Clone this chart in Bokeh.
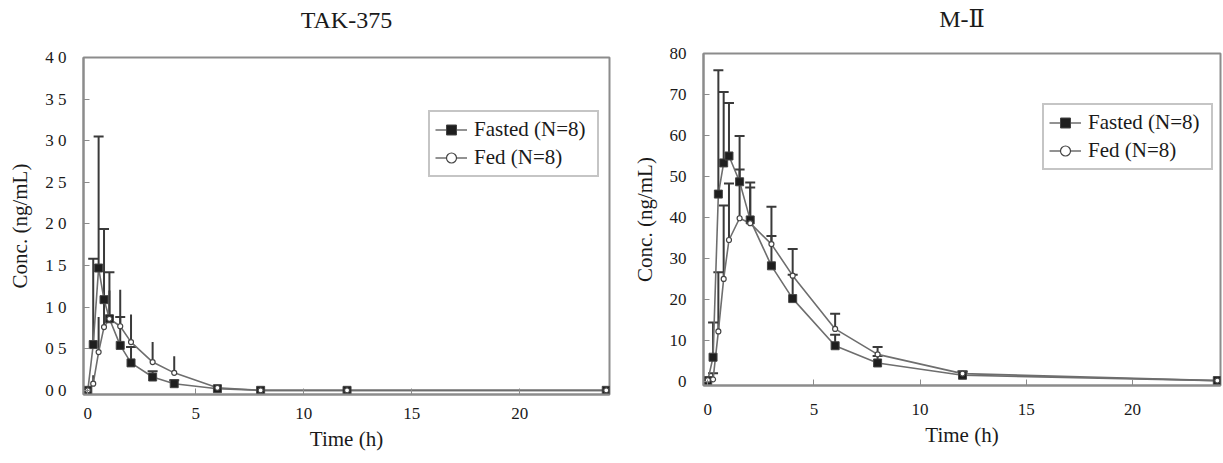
from bokeh.plotting import figure
from bokeh.models import (Range1d, FixedTicker, CustomJSTickFormatter, Whisker, TeeHead,
                          ColumnDataSource, Legend, LegendItem, Title)
from bokeh.layouts import row, column
from bokeh.embed import file_html
from bokeh.resources import INLINE

# ---------------- data ----------------
time_h = [0, 0.25, 0.5, 0.75, 1, 1.5, 2, 3, 4, 6, 8, 12, 24]

tak_fasted_mean = [0.0, 0.55, 1.47, 1.09, 0.86, 0.54, 0.33, 0.16, 0.08, 0.02, 0.0, 0.0, 0.0]
tak_fasted_sd   = [0.0, 1.03, 1.58, 0.85, 0.56, 0.34, 0.19, 0.07, 0.04, 0.0, 0.0, 0.0, 0.0]
tak_fed_mean    = [0.0, 0.08, 0.46, 0.76, 0.86, 0.77, 0.58, 0.34, 0.21, 0.03, 0.0, 0.0, 0.0]
tak_fed_sd      = [0.0, 0.10, 0.42, 0.30, 0.34, 0.44, 0.33, 0.24, 0.20, 0.0, 0.0, 0.0, 0.0]

m2_fasted_mean = [0.2, 5.9, 45.7, 53.3, 55.0, 48.7, 39.4, 28.2, 20.2, 8.7, 4.5, 1.5, 0.2]
m2_fasted_sd   = [0.0, 8.5, 30.2, 17.3, 12.9, 11.2, 9.1, 7.3, 5.8, 2.7, 1.7, 0.8, 0.0]
m2_fed_mean    = [0.3, 0.5, 12.2, 25.0, 34.5, 39.8, 38.6, 33.5, 25.8, 12.8, 6.6, 1.9, 0.2]
m2_fed_sd      = [0.0, 1.5, 14.4, 17.9, 13.8, 11.9, 8.7, 9.1, 6.5, 3.7, 1.8, 0.6, 0.0]

x_ticks = [0, 5, 10, 15, 20]
tak_y_ticks = [0, 0.5, 1.0, 1.5, 2.0, 2.5, 3.0, 3.5, 4.0]
m2_y_ticks = [0, 10, 20, 30, 40, 50, 60, 70, 80]

labels = ["Fasted (N=8)", "Fed (N=8)"]
titles = ["TAK-375", "M-\u2161"]
x_label = "Time (h)"
y_label = "Conc. (ng/mL)"

SERIF = "'Liberation Serif', 'DejaVu Serif', serif"
LINE_C = "#6e6e6e"
BAR_C = "#3a3a3a"
FRAME_C = "#8c8c8c"


def make_panel(title, fm, fs, em, es, y_range, y_ticks, width, borders, fed_caps, legend_loc,
               title_standoffs, x_std, y_fmt=None):
    bl, br, bt, bb = borders
    p = figure(width=width, height=463, output_backend="svg", toolbar_location=None,
               title=None,
               x_range=Range1d(-0.2, 24.15), y_range=Range1d(*y_range),
               min_border_left=bl, min_border_right=br, min_border_top=bt, min_border_bottom=bb)
    # spacer (closest to the frame) then the real title
    p.add_layout(Title(text=" ", text_font_size="8px", standoff=title_standoffs[0]), "above")
    p.add_layout(Title(text=title, align="center", text_font=SERIF, text_font_style="normal",
                       text_font_size="24px", text_color="#1a1a1a",
                       standoff=title_standoffs[1]),
                 "above")
    p.grid.visible = False
    p.outline_line_color = FRAME_C
    p.outline_line_width = 2
    p.background_fill_color = "white"
    p.border_fill_color = "white"

    for ax in (p.xaxis[0], p.yaxis[0]):
        ax.axis_line_color = FRAME_C
        ax.axis_line_width = 2
        ax.major_tick_in = 6
        ax.major_tick_out = 0
        ax.major_tick_line_color = FRAME_C
        ax.major_tick_line_width = 1
        ax.minor_tick_line_color = None
        ax.major_label_text_font = SERIF
        ax.major_label_text_font_size = "17px"
        ax.major_label_text_color = "#1a1a1a"
        ax.axis_label_text_font = SERIF
        ax.axis_label_text_font_style = "normal"
        ax.axis_label_text_font_size = "21px"
        ax.axis_label_text_color = "#1a1a1a"
    p.xaxis.ticker = FixedTicker(ticks=x_ticks)
    p.yaxis.ticker = FixedTicker(ticks=y_ticks)
    if y_fmt is not None:
        p.yaxis.formatter = y_fmt
    p.xaxis.axis_label = x_label
    p.yaxis.axis_label = y_label
    p.xaxis.major_label_standoff = x_std[0]
    p.xaxis.axis_label_standoff = x_std[1]
    p.yaxis.major_label_standoff = 17
    p.yaxis.axis_label_standoff = 10

    fasted = ColumnDataSource(dict(t=time_h, m=fm))
    fed = ColumnDataSource(dict(t=time_h, m=em))
    fasted_bar = ColumnDataSource(dict(t=[t for t, s in zip(time_h, fs) if s > 0],
                                       m=[m for m, s in zip(fm, fs) if s > 0],
                                       up=[m + s for m, s in zip(fm, fs) if s > 0]))
    fed_bar = ColumnDataSource(dict(t=[t for t, s in zip(time_h, es) if s > 0],
                                    m=[m for m, s in zip(em, es) if s > 0],
                                    up=[m + s for m, s in zip(em, es) if s > 0]))

    p.add_layout(Whisker(source=fasted_bar, base="t", lower="m", upper="up", dimension="height",
                         line_color=BAR_C, line_width=2, lower_head=None,
                         upper_head=TeeHead(size=10, line_color=BAR_C, line_width=2)))
    p.add_layout(Whisker(source=fed_bar, base="t", lower="m", upper="up", dimension="height",
                         line_color=BAR_C, line_width=2, lower_head=None,
                         upper_head=(TeeHead(size=10, line_color=BAR_C, line_width=2)
                                     if fed_caps else None)))

    l1 = p.line("t", "m", source=fasted, line_color=LINE_C, line_width=1.6)
    l2 = p.line("t", "m", source=fed, line_color=LINE_C, line_width=1.6)
    s1 = p.scatter("t", "m", source=fasted, marker="square", size=8,
                   fill_color="#1e1e1e", line_color="#444444", line_width=1)
    s2 = p.scatter("t", "m", source=fed, marker="circle", size=5,
                   fill_color="white", line_color="#444444", line_width=1.2)

    legend = Legend(items=[LegendItem(label=labels[0], renderers=[l1, s1]),
                           LegendItem(label=labels[1], renderers=[l2, s2])],
                    location=legend_loc)
    legend.label_text_font = SERIF
    legend.label_text_font_size = "21px"
    legend.label_text_color = "#1a1a1a"
    legend.glyph_width = 32
    legend.glyph_height = 25
    legend.label_height = 25
    legend.label_width = 118
    legend.spacing = 3
    legend.padding = 5
    legend.label_standoff = 7
    legend.margin = 0
    legend.border_line_color = FRAME_C
    legend.border_line_width = 2
    legend.background_fill_alpha = 1
    p.add_layout(legend)
    return p


tak_fmt = CustomJSTickFormatter(code="return tick.toFixed(1).replace('.', ' ');")

p1 = make_panel(titles[0], tak_fasted_mean, tak_fasted_sd, tak_fed_mean, tak_fed_sd,
                (-0.05, 4.0), tak_y_ticks, 615, (83, 6, 57, 69), False, (345, 217), (14, 0),
                (13, 5), tak_fmt)
p2 = make_panel(titles[1], m2_fasted_mean, m2_fasted_sd, m2_fed_mean, m2_fed_sd,
                (-1.0, 80.0), m2_y_ticks, 608, (88, 3, 53, 78), True, (339, 215), (11, 0),
                (18, 5))

layout = row(column(p1), column(p2))
open("out.html", "w").write(file_html(layout, INLINE))
